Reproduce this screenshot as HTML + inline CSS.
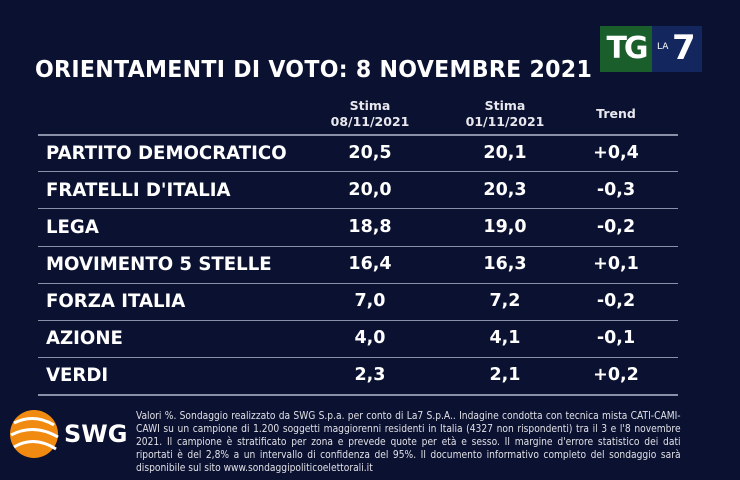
<!DOCTYPE html>
<html><head><style>
body{margin:0;width:740px;height:480px;background:#0b1130;overflow:hidden;font-family:"DejaVu Sans","Liberation Sans",sans-serif;color:#fff;position:relative}
.a{position:absolute;white-space:nowrap}
.t{font-weight:bold;font-size:23px;left:35px;top:57px;letter-spacing:0.3px;transform:scaleX(0.96);transform-origin:left}
.h{font-weight:bold;font-size:12.5px;text-align:center;line-height:16px;color:#e8e8ee}
.l{position:absolute;left:38px;width:640px;height:2px;background:#8a90a8}
.r{position:absolute;left:46px;font-weight:bold;font-size:18.5px;white-space:nowrap;transform:scaleX(0.98);transform-origin:left}
.v{position:absolute;font-weight:bold;font-size:17.5px;text-align:center;width:100px;white-space:nowrap}
.f{font-size:11px;line-height:13px;left:136px;top:409px;color:#e0e0e6;width:590px;white-space:normal;text-align:justify;font-family:"DejaVu Sans Condensed","Liberation Sans Narrow","Liberation Sans",sans-serif;transform:scaleX(0.923);transform-origin:left}
</style></head><body>
<div class="a t">ORIENTAMENTI DI VOTO: 8 NOVEMBRE 2021</div>
<div class="a" style="left:600px;top:26px;width:52px;height:46px;background:#1a5e2c;font-weight:bold;font-size:30px;line-height:46px;text-align:center;letter-spacing:-3px">TG</div>
<div class="a" style="left:652px;top:26px;width:50px;height:46px;background:#13275e"><span class="a" style="left:5px;top:16px;font-size:9px">LA</span><span class="a" style="left:20px;top:2px;font-size:34px;font-weight:bold">7</span></div>
<div class="a h" style="left:320px;top:98px;width:100px">Stima<br>08/11/2021</div>
<div class="a h" style="left:455px;top:98px;width:100px">Stima<br>01/11/2021</div>
<div class="a h" style="left:566px;top:106px;width:100px">Trend</div>
<div class="l" style="top:134px"></div>
<div class="l" style="top:171px;height:1px"></div>
<div class="l" style="top:208px;height:1px"></div>
<div class="l" style="top:246px;height:1px"></div>
<div class="l" style="top:283px;height:1px"></div>
<div class="l" style="top:320px;height:1px"></div>
<div class="l" style="top:357px;height:1px"></div>
<div class="l" style="top:394px"></div>
<div style="position:absolute;top:0;left:0">
<div class="r" style="top:143px">PARTITO DEMOCRATICO</div><div class="v" style="left:320px;top:143px">20,5</div><div class="v" style="left:455px;top:143px">20,1</div><div class="v" style="left:566px;top:143px">+0,4</div>
<div class="r" style="top:180px">FRATELLI D'ITALIA</div><div class="v" style="left:320px;top:180px">20,0</div><div class="v" style="left:455px;top:180px">20,3</div><div class="v" style="left:566px;top:180px">-0,3</div>
<div class="r" style="top:217px">LEGA</div><div class="v" style="left:320px;top:217px">18,8</div><div class="v" style="left:455px;top:217px">19,0</div><div class="v" style="left:566px;top:217px">-0,2</div>
<div class="r" style="top:254px">MOVIMENTO 5 STELLE</div><div class="v" style="left:320px;top:254px">16,4</div><div class="v" style="left:455px;top:254px">16,3</div><div class="v" style="left:566px;top:254px">+0,1</div>
<div class="r" style="top:291px">FORZA ITALIA</div><div class="v" style="left:320px;top:291px">7,0</div><div class="v" style="left:455px;top:291px">7,2</div><div class="v" style="left:566px;top:291px">-0,2</div>
<div class="r" style="top:328px">AZIONE</div><div class="v" style="left:320px;top:328px">4,0</div><div class="v" style="left:455px;top:328px">4,1</div><div class="v" style="left:566px;top:328px">-0,1</div>
<div class="r" style="top:365px">VERDI</div><div class="v" style="left:320px;top:365px">2,3</div><div class="v" style="left:455px;top:365px">2,1</div><div class="v" style="left:566px;top:365px">+0,2</div>
</div>
<svg class="a" style="left:6px;top:405px" width="60" height="58"><circle cx="28" cy="29" r="24" fill="#f08a10"/><path d="M8 18 Q28 8 48 20 M5 30 Q28 18 52 32 M8 42 Q28 30 50 44" stroke="#fff" stroke-width="3" fill="none"/></svg>
<div class="a" style="left:64px;top:420px;font-weight:bold;font-size:24px">SWG</div>
<div class="a f">Valori %. Sondaggio realizzato da SWG S.p.a. per conto di La7 S.p.A.. Indagine condotta con tecnica mista CATI-CAMI-CAWI su un campione di 1.200 soggetti maggiorenni residenti in Italia (4327 non rispondenti) tra il 3 e l'8 novembre 2021. Il campione è stratificato per zona e prevede quote per età e sesso. Il margine d'errore statistico dei dati riportati è del 2,8% a un intervallo di confidenza del 95%. Il documento informativo completo del sondaggio sarà disponibile sul sito www.sondaggipoliticoelettorali.it</div>
</body></html>
